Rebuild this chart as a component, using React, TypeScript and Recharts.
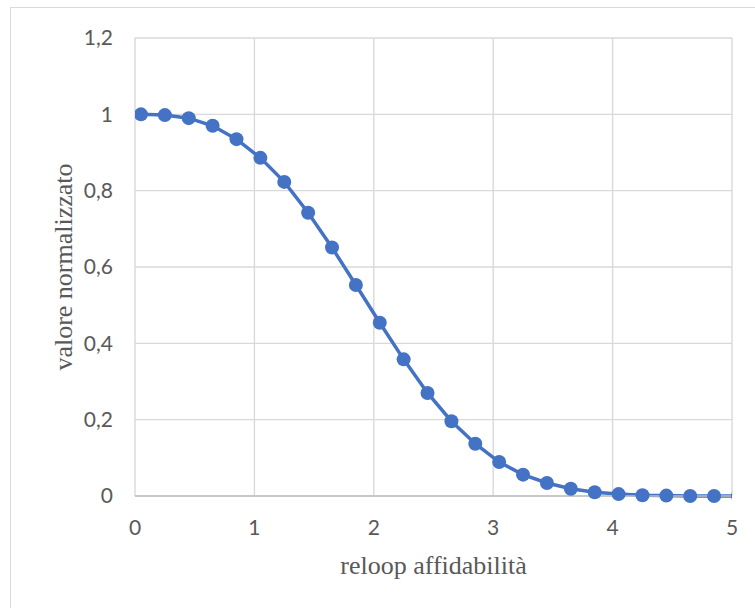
import React from 'react';
import { LineChart, Line, XAxis, YAxis, CartesianGrid, Label } from 'recharts';

// Sample positions along the reliability axis and the normalised value at each
const xValues = [
  0.05, 0.25, 0.45, 0.65, 0.85, 1.05, 1.25, 1.45, 1.65, 1.85, 2.05, 2.25, 2.45,
  2.65, 2.85, 3.05, 3.25, 3.45, 3.65, 3.85, 4.05, 4.25, 4.45, 4.65, 4.85, 5.05,
];
const yValues = [
  1.0, 0.998, 0.99, 0.97, 0.935, 0.886, 0.823, 0.742, 0.651, 0.553, 0.454, 0.358, 0.27,
  0.196, 0.137, 0.089, 0.056, 0.034, 0.019, 0.01, 0.005, 0.002, 0.001, 0.0, 0.0, 0.0,
];

const xTicks = [0, 1, 2, 3, 4, 5];
const yTicks = [0, 0.2, 0.4, 0.6, 0.8, 1, 1.2];

const xTitle = 'reloop affidabilità';
const yTitle = 'valore normalizzato';

const data = xValues.map((x, i) => ({ x, y: yValues[i] }));

const BLUE = '#4472C4';
const GRID = '#d9d9d9';
const TEXT = '#595959';
const TICK_FONT = 'Lato, "Open Sans", sans-serif';
const TITLE_FONT = '"Liberation Serif", "DejaVu Serif", serif';

// decimal comma, as in Italian locale
const fmt = (v: number) => String(v).replace('.', ',');

const tickStyle = { fill: TEXT, fontSize: 21, fontFamily: TICK_FONT };

const XTitle = (props: any) => {
  const vb = props.viewBox || { x: 135, y: 496, width: 597, height: 100 };
  return (
    <text
      x={vb.x + vb.width / 2}
      y={vb.y + vb.height - 22}
      textAnchor="middle"
      fill={TEXT}
      fontSize={26}
      fontFamily={TITLE_FONT}
    >
      {xTitle}
    </text>
  );
};

const YTitle = (props: any) => {
  const vb = props.viewBox || { x: 0, y: 38, width: 135, height: 458 };
  const cx = vb.x + 72;
  const cy = vb.y + vb.height / 2;
  return (
    <text
      x={cx}
      y={cy}
      transform={`rotate(-90 ${cx} ${cy})`}
      textAnchor="middle"
      fill={TEXT}
      fontSize={26}
      fontFamily={TITLE_FONT}
    >
      {yTitle}
    </text>
  );
};

const App: React.FC = () => {
  return (
    <div
      style={{
        position: 'absolute',
        left: 0,
        top: 0,
        width: 755,
        height: 608,
        overflow: 'hidden',
        background: '#fff',
      }}
    >
      {/* chart frame, runs off the right and bottom edges */}
      <div
        style={{
          position: 'absolute',
          left: 10,
          top: 7,
          width: 800,
          height: 700,
          border: `1.5px solid ${GRID}`,
        }}
      />
      <LineChart
        width={755}
        height={608}
        data={data}
        margin={{ top: 38, right: 23, left: 0, bottom: 12 }}
        style={{ position: 'absolute', left: 0, top: 0 }}
      >
        <CartesianGrid stroke={GRID} strokeWidth={1.4} />
        <XAxis
          type="number"
          dataKey="x"
          domain={[0, 5]}
          ticks={xTicks}
          allowDataOverflow
          height={100}
          axisLine={{ stroke: '#bfbfbf', strokeWidth: 1.5 }}
          tickLine={false}
          tickSize={0}
          tickMargin={24}
          tick={tickStyle}
          tickFormatter={fmt}
        >
          <Label content={XTitle} />
        </XAxis>
        <YAxis
          type="number"
          domain={[0, 1.2]}
          ticks={yTicks}
          width={135}
          axisLine={false}
          tickLine={false}
          tickSize={0}
          tickMargin={22}
          tick={tickStyle}
          tickFormatter={fmt}
        >
          <Label content={YTitle} />
        </YAxis>
        <Line
          type="linear"
          dataKey="y"
          stroke={BLUE}
          strokeWidth={3.5}
          dot={{ r: 7, fill: BLUE, stroke: BLUE, strokeWidth: 0 }}
          activeDot={false}
          isAnimationActive={false}
        />
      </LineChart>
    </div>
  );
};

export default App;
